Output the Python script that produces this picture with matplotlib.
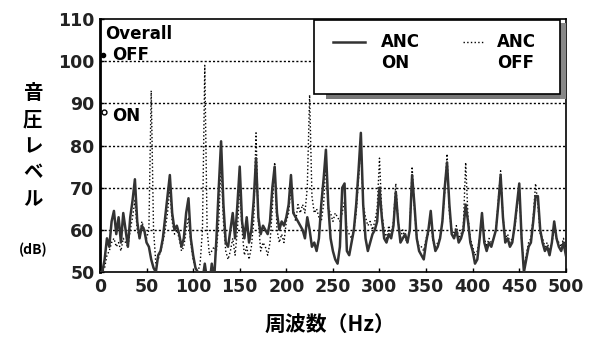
import numpy as np
import matplotlib
matplotlib.use('Agg')
import matplotlib.pyplot as plt
from matplotlib.patches import Rectangle

# frequency axis, 2.5 Hz steps
freq = np.arange(0, 500.1, 2.5)

# ANC ON level (dB), 20 values per 50 Hz row
anc_on = [
    50, 50, 53, 58, 56, 62, 64.5, 59, 63, 57, 64, 60, 56, 63, 67, 72, 62, 58, 61, 60,
    57, 56, 53, 51, 50, 54, 55, 58, 63, 68, 73, 64, 60, 61, 59, 56, 58, 64, 67.5, 58,
    54, 51, 50, 48, 48, 52, 48, 47, 52, 48, 58, 70, 81, 66, 57, 56, 60, 64, 58, 66,
    75, 62, 58, 63, 57, 60, 67, 77, 63, 59, 61, 60, 59, 62, 70, 75, 64, 60, 62, 61,
    63, 66, 73, 64, 63, 62, 61, 60, 58, 63, 60, 56, 57, 55, 58, 66, 72, 79, 66, 58,
    55, 53, 52, 56, 70, 71, 55, 54, 57, 60, 66, 74, 83, 66, 58, 55, 57, 59, 60, 62,
    70, 63, 58, 57, 59, 58, 61, 69, 62, 57, 58, 59, 57, 60, 73, 66, 58, 55, 54, 53,
    57, 60, 64.5, 58, 55, 56, 58, 62, 70, 76, 66, 59, 58, 60, 57, 58, 60, 66, 62, 57,
    55, 52, 53, 58, 64, 57, 55, 57, 56, 58, 60, 66, 73, 63, 57, 58, 56, 57, 61, 66,
    71, 58, 50, 53, 56, 57, 62, 68, 68, 60, 57, 55, 56, 54, 57, 62, 58, 56, 55, 57,
    54,
]

# ANC OFF level (dB)
anc_off = [
    50, 50, 51, 54, 55, 57, 58, 56, 57, 55, 58, 57, 56, 60, 63, 67, 60, 58, 62, 60,
    58, 60, 93, 60, 52, 53, 55, 57, 60, 64, 70, 62, 59, 60, 58, 55, 56, 60, 63, 57,
    53, 51, 50, 52, 60, 99, 60, 54, 55, 56, 55, 62, 76, 62, 55, 53, 55, 58, 54, 60,
    70, 60, 54, 56, 53, 56, 62, 83, 62, 55, 57, 56, 54, 57, 65, 76, 60, 57, 59, 57,
    62, 64, 70, 65, 62, 66, 64, 66, 64, 70, 92, 68, 64, 65, 63, 62, 66, 76, 65, 64,
    62, 64, 63, 62, 64, 67, 60, 59, 58, 60, 64, 72, 80, 66, 63, 61, 62, 60, 62, 65,
    77, 64, 60, 58, 61, 59, 62, 71, 62, 58, 60, 58, 57, 60, 75, 65, 58, 56, 56, 55,
    58, 59, 63, 57, 56, 57, 58, 62, 69, 78, 64, 60, 59, 61, 58, 59, 61, 76, 63, 58,
    56, 54, 55, 58, 63, 58, 56, 58, 57, 58, 60, 67, 74, 63, 58, 59, 57, 58, 60, 65,
    70, 58, 51, 54, 57, 58, 63, 71, 66, 59, 58, 56, 57, 55, 57, 60, 58, 57, 56, 58,
    55,
]

# overall levels marked at the left edge
overall_off = 101.5
overall_on = 88.0

xticks = list(range(0, 501, 50))
yticks = list(range(50, 111, 10))

cjk = ['Noto Sans CJK JP', 'DejaVu Sans']

fig = plt.figure(figsize=(5.95, 3.38), dpi=100)
ax = fig.add_axes([0.168, 0.195, 0.783, 0.749])

ax.plot(freq, anc_off, color='black', linestyle=':', linewidth=1.0, zorder=3)
ax.plot(freq, anc_on, color='#333333', linestyle='-', linewidth=1.8, zorder=4)

ax.set_xlim(0, 500)
ax.set_ylim(50, 110)
ax.set_xticks(xticks)
ax.set_yticks(yticks)
ax.tick_params(direction='in', length=3, width=1, labelsize=12.5, pad=4)
for lab in ax.get_xticklabels() + ax.get_yticklabels():
    lab.set_fontweight('bold')
    lab.set_color('#222222')

for y in yticks[1:-1]:
    ax.axhline(y, color='black', linestyle=(0, (1.5, 1.5)), linewidth=1.0, zorder=1)

for s in ax.spines.values():
    s.set_linewidth(1.2)
ax.spines['left'].set_linewidth(2.0)

# overall markers
ax.plot([3], [overall_off], marker='o', markersize=3, color='black',
        markerfacecolor='black', clip_on=False, zorder=5)
ax.plot([4], [overall_on], marker='o', markersize=3.5, color='black',
        markerfacecolor='white', clip_on=False, zorder=5)
ax.text(0.012, 0.975, 'Overall', transform=ax.transAxes, fontsize=12,
        fontweight='bold', va='top', ha='left')
ax.text(13, overall_off, 'OFF', fontsize=12, fontweight='bold',
        va='center', ha='left')
ax.text(13, overall_on - 1.0, 'ON', fontsize=12, fontweight='bold',
        va='center', ha='left')

# legend box with shadow along the bottom
ax.add_patch(Rectangle((0.485, 0.684), 0.515, 0.05, transform=ax.transAxes,
                       facecolor='#777777', edgecolor='none', zorder=6))
ax.add_patch(Rectangle((0.459, 0.705), 0.528, 0.292, transform=ax.transAxes,
                       facecolor='white', edgecolor='black', linewidth=1.2, zorder=7))
ax.add_patch(Rectangle((0.987, 0.684), 0.013, 0.30, transform=ax.transAxes,
                       facecolor='#888888', edgecolor='none', zorder=6))
ax.plot([0.50, 0.569], [0.909, 0.909], transform=ax.transAxes, color='#333333',
        linewidth=1.8, zorder=8)
ax.plot([0.779, 0.822], [0.909, 0.909], transform=ax.transAxes, color='black',
        linestyle=':', linewidth=1.0, zorder=8)
ax.text(0.603, 0.909, 'ANC', transform=ax.transAxes, fontsize=12, fontweight='bold',
        va='center', ha='left', zorder=8)
ax.text(0.603, 0.826, 'ON', transform=ax.transAxes, fontsize=12, fontweight='bold',
        va='center', ha='left', zorder=8)
ax.text(0.852, 0.909, 'ANC', transform=ax.transAxes, fontsize=12, fontweight='bold',
        va='center', ha='left', zorder=8)
ax.text(0.852, 0.826, 'OFF', transform=ax.transAxes, fontsize=12, fontweight='bold',
        va='center', ha='left', zorder=8)

# axis labels
fig.text(0.055, 0.567, '音\n圧\nレ\nベ\nル', family=cjk, fontsize=14, fontweight='bold',
         ha='center', va='center', linespacing=1.5)
fig.text(0.055, 0.26, '(dB)', family=cjk, fontsize=10, fontweight='bold',
         ha='center', va='center')
fig.text(0.555, 0.038, '周波数（Hz）', family=cjk, fontsize=15, fontweight='bold',
         ha='center', va='center')

fig.savefig('out.png', dpi=100)
